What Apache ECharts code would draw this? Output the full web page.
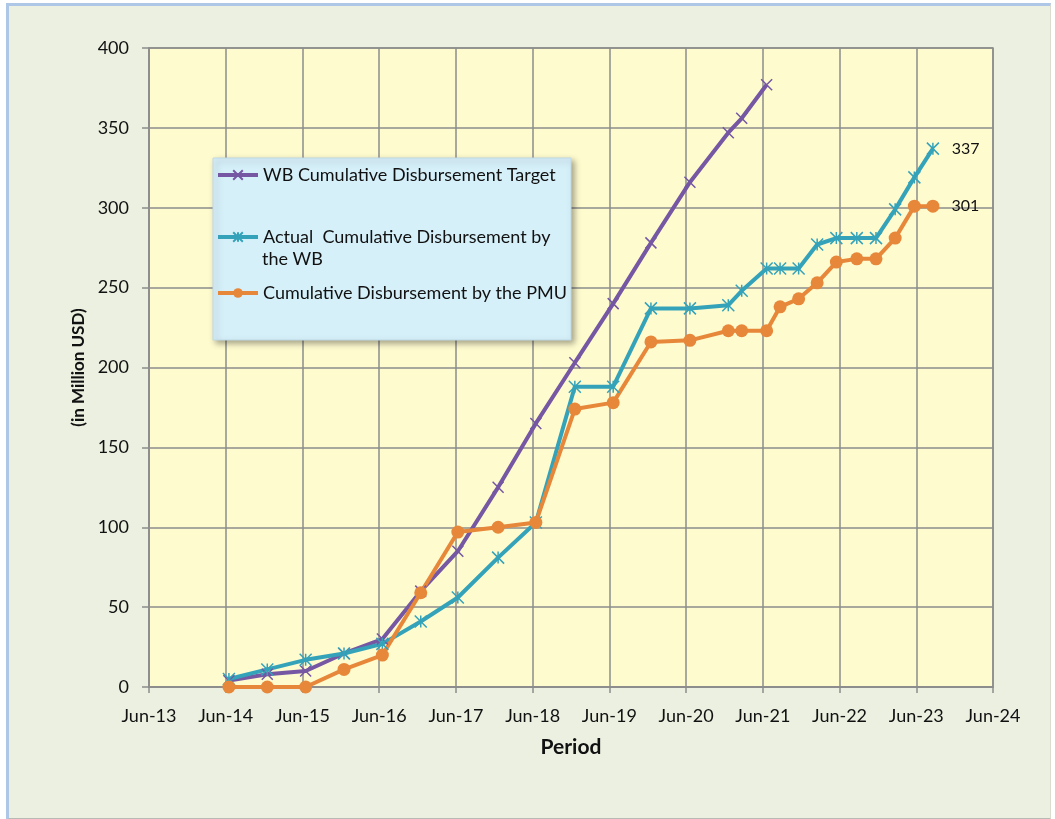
<!DOCTYPE html>
<html><head><meta charset="utf-8">
<script src="https://cdn.jsdelivr.net/npm/echarts@6/dist/echarts.min.js"></script>
<style>
html,body{margin:0;padding:0;background:#fff;}
#bg{position:absolute;left:6px;top:3px;width:1041px;height:812px;background:#EBF0E1;border-top:3px solid #AFC7E6;border-left:3px solid #AFC7E6;border-right:1px solid #d9dccf;border-bottom:2px solid #b8bbb4;}
#c{position:absolute;left:0;top:0;width:1055px;height:819px;}
</style>
</head><body><div id="bg"></div><div id="c"></div>
<script>
// Tick labels of the x axis (one per year, every 12 months from Jun-13)
const tickLabels = ['Jun-13','Jun-14','Jun-15','Jun-16','Jun-17','Jun-18','Jun-19','Jun-20','Jun-21','Jun-22','Jun-23','Jun-24'];
// x positions of the observations, in months after Jun-13
const xMonths = [12.5,18.5,24.5,30.5,36.5,42.5,48.3,54.6,60.5,66.6,72.6,78.5,84.6,90.6,92.7,96.6,98.7,101.6,104.5,107.5,110.7,113.7,116.7,119.7,122.6];
// Series values (million USD)
const wbTarget = [4,8,10,21,30,60,85,125,165,203,240,278,316,347,356,377];
const wbActual = [5,11,17,21,27,41,56,81,103,188,188,237,237,239,248,262,262,262,277,281,281,281,299,319,337];
const pmuDisb  = [0,0,0,11,20,59,97,100,103,174,178,216,217,223,223,223,238,243,253,266,268,268,281,301,301];
const seriesNames = ['WB Cumulative Disbursement Target','Actual  Cumulative Disbursement by the WB','Cumulative Disbursement by the PMU'];

const FONT = 'Lato, "Open Sans", sans-serif';
const cPurple = '#7557A3', cTeal = '#34A3BA', cOrange = '#E7873A';
const TXT = '#111';

function toData(vals, labelLast) {
  return vals.map((v, i) => ({
    value: [xMonths[i], v],
    label: { show: labelLast && i === vals.length - 1 }
  }));
}
const lastLabel = {
  position: 'right', distance: 12, fontFamily: FONT, fontSize: 16, color: TXT,
  formatter: p => p.value[1]
};
const legendBase = {
  orient: 'vertical', left: 216, padding: 0, z: 6,
  itemWidth: 40, itemHeight: 12,
  lineStyle: { width: 4 },
  textStyle: { fontFamily: FONT, fontSize: 18, color: TXT }
};

const chart = echarts.init(document.getElementById('c'), null, {renderer: 'canvas'});
chart.setOption({
  backgroundColor: 'transparent',
  animation: false,
  grid: {
    left: 149, right: 62, top: 48, bottom: 132,
    show: true, backgroundColor: '#FEFBCF', borderColor: '#8c8c8c', borderWidth: 1.5
  },
  xAxis: {
    type: 'value', min: 0, max: 132, interval: 12,
    name: 'Period', nameLocation: 'middle', nameGap: 50,
    nameTextStyle: { fontFamily: FONT, fontSize: 21, fontWeight: 'bold', color: TXT },
    axisLine: { show: true, lineStyle: { color: '#8c8c8c', width: 1.5 } },
    axisTick: { show: true, inside: false, length: 6, lineStyle: { color: '#8c8c8c', width: 1.5 } },
    axisLabel: { margin: 20, fontFamily: FONT, fontSize: 18, color: TXT,
      formatter: v => tickLabels[Math.round(v / 12)] },
    splitLine: { show: true, lineStyle: { color: '#8c8c8c', width: 1.5 } }
  },
  yAxis: {
    type: 'value', min: 0, max: 400, interval: 50,
    name: '(in Million USD)', nameLocation: 'middle', nameGap: 62,
    nameTextStyle: { fontFamily: FONT, fontSize: 17, fontWeight: 'bold', color: TXT },
    axisLine: { show: true, lineStyle: { color: '#8c8c8c', width: 1.5 } },
    axisTick: { show: true, inside: false, length: 7, lineStyle: { color: '#8c8c8c', width: 1.5 } },
    axisLabel: { margin: 20, fontFamily: FONT, fontSize: 18, color: TXT },
    splitLine: { show: true, lineStyle: { color: '#8c8c8c', width: 1.5 } }
  },
  graphic: [
    { type: 'rect', z: 3, shape: { x: 213, y: 158, width: 358, height: 182 },
      style: { fill: '#D6F0FA', stroke: '#BFD9E6', lineWidth: 1,
        shadowBlur: 6, shadowOffsetX: 3, shadowOffsetY: 3, shadowColor: 'rgba(0,0,0,0.35)' } },
    { type: 'text', z: 6, x: 262, y: 259,
      style: { text: 'the WB', font: '18px ' + FONT, fill: TXT, verticalAlign: 'middle', textVerticalAlign: 'middle' } }
  ],
  legend: [
    Object.assign({}, legendBase, { data: [seriesNames[0]], top: 166 }),
    Object.assign({}, legendBase, { data: [seriesNames[1]], top: 228,
      formatter: () => 'Actual  Cumulative Disbursement by' }),
    Object.assign({}, legendBase, { data: [seriesNames[2]], top: 284 })
  ],
  series: [
    { name: seriesNames[0], type: 'line', data: toData(wbTarget, false),
      symbol: 'path://M0,0L10,10M10,0L0,10', symbolSize: 11,
      lineStyle: { color: cPurple, width: 4 },
      itemStyle: { color: cPurple, borderColor: cPurple, borderWidth: 1.5 } },
    { name: seriesNames[1], type: 'line', data: toData(wbActual, true), label: lastLabel,
      symbol: 'path://M0,0L10,10M10,0L0,10M5,0L5,10', symbolSize: 12,
      lineStyle: { color: cTeal, width: 4 },
      itemStyle: { color: cTeal, borderColor: cTeal, borderWidth: 1.5 } },
    { name: seriesNames[2], type: 'line', data: toData(pmuDisb, true), label: lastLabel,
      symbol: 'circle', symbolSize: 13,
      lineStyle: { color: cOrange, width: 4 },
      itemStyle: { color: cOrange, borderColor: cOrange, borderWidth: 0 } }
  ]
});
</script>
</body></html>
